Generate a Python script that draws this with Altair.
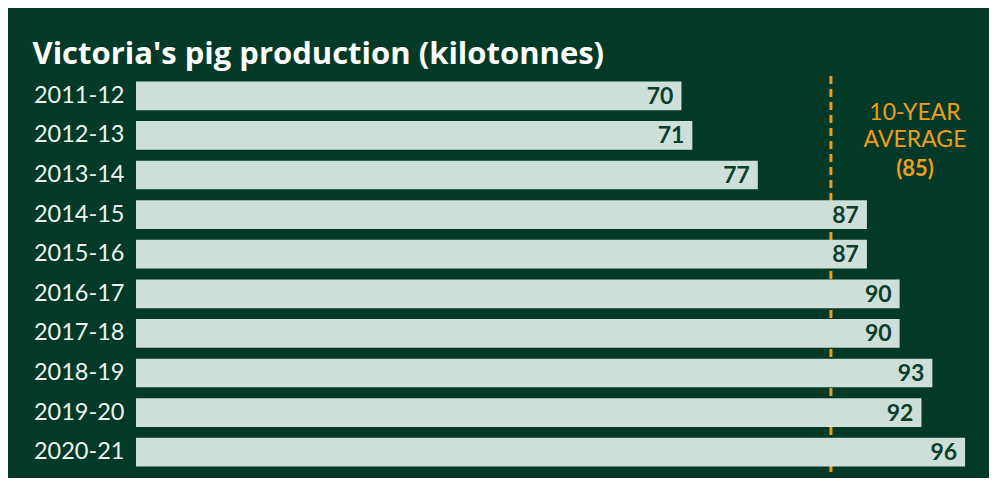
import altair as alt
import pandas as pd

years = ["2011-12", "2012-13", "2013-14", "2014-15", "2015-16",
         "2016-17", "2017-18", "2018-19", "2019-20", "2020-21"]
production = [70, 71, 77, 87, 87, 90, 90, 93, 92, 96]
average_value = 85
average_line_position = 83.7
annotation_lines = ["10-YEAR", "AVERAGE"]

BG = "#023A27"
BAR = "#CDDFD8"
DARK = "#0D3D2B"
ORANGE = "#EE9D1E"
FONT = "Lato"

df = pd.DataFrame({"year": years, "value": production})
avg_df = pd.DataFrame({"avg": [average_line_position]})

xscale = alt.Scale(domain=[20, 97], zero=False, nice=False)
yenc = alt.Y("year:N", sort=years,
             scale=alt.Scale(paddingInner=0.275, paddingOuter=0.1375),
             axis=alt.Axis(title=None, domain=False, ticks=False, labelPadding=12,
                           labelFontSize=23.5, labelColor="#EEF2EF", labelFont=FONT))

rule = alt.Chart(avg_df).mark_rule(color=ORANGE, strokeWidth=3, strokeDash=[8, 5]).encode(
    x=alt.X("avg:Q", scale=xscale, axis=None)
)

bars = alt.Chart(df).mark_bar(color=BAR, cornerRadius=0).encode(
    x=alt.X("value:Q", scale=xscale, axis=None),
    x2=alt.datum(20),
    y=yenc,
)

labels = alt.Chart(df).mark_text(align="right", baseline="middle", dx=-8, dy=1,
                                 fontSize=23, fontWeight="bold", color=DARK, font=FONT).encode(
    x=alt.X("value:Q", scale=xscale, axis=None),
    y=yenc,
    text=alt.Text("value:Q"),
)

ann = alt.Chart(pd.DataFrame({"t": ["\n".join(annotation_lines)]})).mark_text(
    align="center", baseline="top", fontSize=23, color=ORANGE, font=FONT,
    fontWeight="normal", lineBreak="\n", lineHeight=27
).encode(x=alt.value(779), y=alt.value(26), text="t:N")

ann_b = alt.Chart(pd.DataFrame({"t": [f"({average_value})"]})).mark_text(
    align="center", baseline="middle", fontSize=22, color=ORANGE, font=FONT, fontWeight="bold"
).encode(x=alt.value(779), y=alt.value(93), text="t:N")

chart = alt.layer(rule, bars, labels, ann, ann_b).properties(
    width=840, height=396,
    padding={"left": 128, "top": 68, "right": 13, "bottom": 6},
    autosize=alt.AutoSizeParams(type="none"),
    background=BG,
    title=alt.TitleParams("Victoria's pig production (kilotonnes)", anchor="start", frame="bounds",
                          color="white", fontSize=31, font="Open Sans", fontWeight="bold",
                          baseline="alphabetic", offset=14, dx=-1, dy=34),
).configure_view(stroke=None)

chart.save("out.html", embed_options={"renderer": "svg", "actions": False})
